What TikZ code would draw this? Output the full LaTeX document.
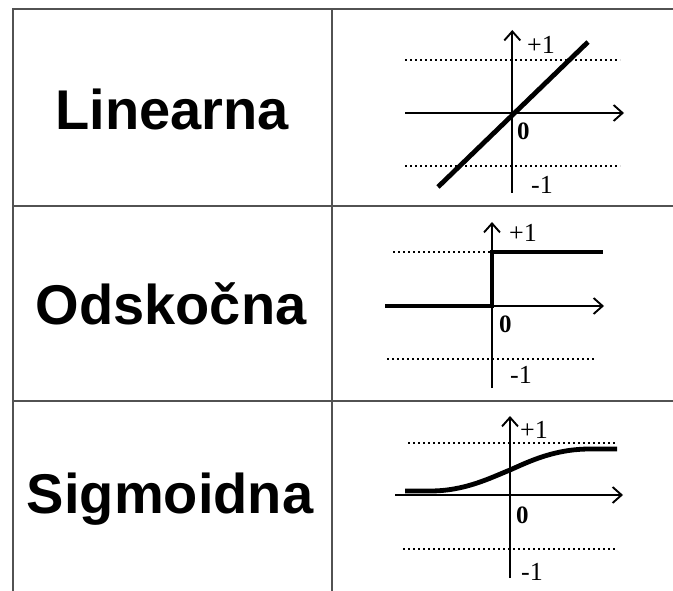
\documentclass[tikz,border=0pt]{standalone}
\usepackage{fontspec}
\usetikzlibrary{arrows.meta}
\setmainfont{Liberation Serif}
\newfontfamily\lblfont{Liberation Sans}
\begin{document}
\begin{tikzpicture}[x=1pt,y=-1pt,
  grid/.style={draw=black!68, line width=2pt},
  axis/.style={line width=1.9pt, -{Straight Barb[length=9pt,width=16pt,line width=1.9pt]}},
  ref/.style={line width=1.7pt, dash pattern=on 2.4pt off 2.6pt},
  curve/.style={line width=4.8pt},
  title/.style={font=\lblfont\bfseries\fontsize{56}{60}\selectfont},
  val/.style={font=\fontsize{26}{28}\selectfont, inner sep=0pt},
  valb/.style={font=\bfseries\fontsize{25}{27}\selectfont, inner sep=0pt}]
\useasboundingbox (0,0) rectangle (673,591);
% table
\coordinate (tl) at (12.5,9.5);
\coordinate (tr) at (673,9.5);
\coordinate (bl) at (12.5,591);
\coordinate (mt) at (331.7,9.5);
\coordinate (mb) at (331.7,591);
\coordinate (r1l) at (12.5,205.7);
\coordinate (r1r) at (673,205.7);
\coordinate (r2l) at (12.5,400.5);
\coordinate (r2r) at (673,400.5);
\draw[grid] (tr) -- (tl) -- (bl);
\draw[grid] (mt) -- (mb);
\draw[grid] (r1l) -- (r1r);
\draw[grid] (r2l) -- (r2r);
% titles
\node[title] (t1) at (172,109) {Linearna};
\node[title] (t2) at (171,304) {Odsko\v{c}na};
\node[title] (t3) at (170,499) {Sigmoidna};
% ---- linear
\coordinate (a1b) at (512.3,193);
\coordinate (a1t) at (512.3,30);
\coordinate (h1l) at (405,113);
\coordinate (h1r) at (624,113);
\draw[axis] (a1b) -- (a1t);
\draw[axis] (h1l) -- (h1r);
\coordinate (d1a) at (405,60); \coordinate (d1b) at (620,60);
\coordinate (d1c) at (405,166); \coordinate (d1d) at (620,166);
\draw[ref] (d1a) -- (d1b);
\draw[ref] (d1c) -- (d1d);
\coordinate (l1a) at (438,187); \coordinate (l1b) at (588,42);
\draw[curve] (l1a) -- (l1b);
\node[val, anchor=west] (p1) at (527,45) {+1};
\node[valb, anchor=west] (z1) at (517,131) {0};
\node[val, anchor=west] (m1) at (531,185) {-1};
% ---- step
\coordinate (a2b) at (492,388);
\coordinate (a2t) at (492,222);
\coordinate (h2l) at (385,306);
\coordinate (h2r) at (604,306);
\draw[axis] (a2b) -- (a2t);
\draw[axis] (h2l) -- (h2r);
\coordinate (d2a) at (393,252); \coordinate (d2b) at (492,252);
\coordinate (d2c) at (387,359); \coordinate (d2d) at (595,359);
\draw[ref] (d2a) -- (d2b);
\draw[ref] (d2c) -- (d2d);
\coordinate (s2a) at (385,306); \coordinate (s2b) at (492,306);
\coordinate (s2c) at (492,252); \coordinate (s2d) at (603,252);
\draw[curve] (s2a) -- (s2b) -- (s2c) -- (s2d);
\node[val, anchor=west] (p2) at (509,233) {+1};
\node[valb, anchor=west] (z2) at (499,324) {0};
\node[val, anchor=west] (m2) at (510,375) {-1};
% ---- sigmoid
\coordinate (a3b) at (510,578);
\coordinate (a3t) at (510,416);
\coordinate (h3l) at (395,495);
\coordinate (h3r) at (623,495);
\draw[axis] (a3b) -- (a3t);
\draw[axis] (h3l) -- (h3r);
\coordinate (d3a) at (408,443); \coordinate (d3b) at (617,443);
\coordinate (d3c) at (403,549); \coordinate (d3d) at (617,549);
\draw[ref] (d3a) -- (d3b);
\draw[ref] (d3c) -- (d3d);
\coordinate (c3a) at (405,491); \coordinate (c3m) at (510,470); \coordinate (c3e) at (617,449);
\draw[curve] (c3a) -- (430,491) .. controls (465,491) and (490,478) .. (c3m)
  .. controls (530,461) and (555,449) .. (590,449) -- (c3e);
\node[val, anchor=west] (p3) at (520,430) {+1};
\node[valb, anchor=west] (z3) at (516,515) {0};
\node[val, anchor=west] (m3) at (521,572) {-1};
\end{tikzpicture}
\end{document}
